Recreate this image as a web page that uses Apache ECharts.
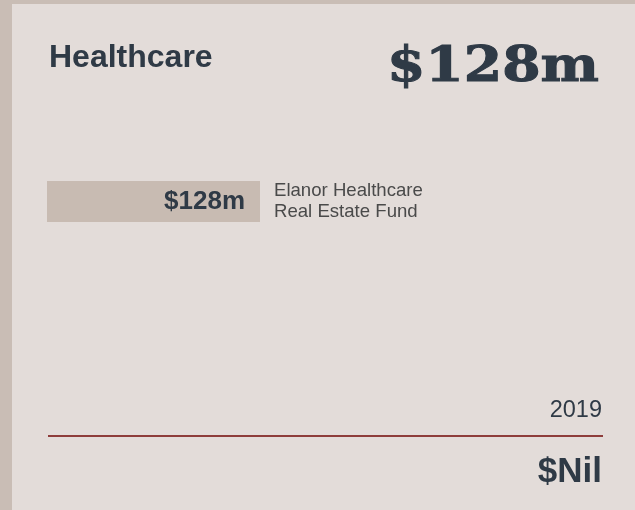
<!DOCTYPE html>
<html><head><meta charset="utf-8">
<script src="https://cdn.jsdelivr.net/npm/echarts@6/dist/echarts.min.js"></script>
<style>html,body{margin:0;padding:0;background:#c9bdb5}#c{width:635px;height:510px}</style>
</head><body><div id="c"></div>
<script>
const sectorTitle = 'Healthcare';
const sectorTotal = '$128m';
const funds = ['Elanor Healthcare\nReal Estate Fund'];
const fundValues = [128];
const fundLabels = ['$128m'];
const yearLabel = '2019';
const yearValue = '$Nil';

const dark = '#2f3a46';
const sans = 'Liberation Sans';
const chart = echarts.init(document.getElementById('c'), null, {renderer: 'canvas'});
chart.setOption({
  backgroundColor: '#c9bdb5',
  animation: false,
  graphic: [
    {type: 'rect', shape: {x: 12, y: 4, width: 623, height: 506}, style: {fill: '#e3dcd9'}, z: -10},
    {type: 'line', shape: {x1: 48, y1: 436, x2: 603, y2: 436}, style: {stroke: '#8e3d3b', lineWidth: 2}},
    {type: 'text', x: 49, y: 58, style: {text: sectorTitle, fontFamily: sans, fontWeight: 'bold', fontSize: 32, fill: dark, align: 'left', verticalAlign: 'middle'}},
    {type: 'text', x: 599, y: 69, scaleX: 1.15, style: {text: sectorTotal, fontFamily: 'DejaVu Serif', fontWeight: 'bold', fontSize: 48, fill: dark, stroke: dark, lineWidth: 1, align: 'right', verticalAlign: 'middle'}},
    {type: 'text', x: 602, y: 411, style: {text: yearLabel, fontFamily: sans, fontWeight: 'normal', fontSize: 23.5, fill: dark, align: 'right', verticalAlign: 'middle'}},
    {type: 'text', x: 602, y: 472.5, style: {text: yearValue, fontFamily: sans, fontWeight: 'bold', fontSize: 35, fill: dark, align: 'right', verticalAlign: 'middle'}}
  ],
  grid: {left: 47, top: 181, width: 213, height: 41},
  xAxis: {type: 'value', min: 0, max: 128, show: false},
  yAxis: {
    type: 'category', data: funds, position: 'right',
    axisLine: {show: false}, axisTick: {show: false},
    axisLabel: {margin: 14, align: 'left', fontFamily: sans, fontSize: 18.6, lineHeight: 21, color: '#4a4a4a', padding: [2, 0, 0, 0]}
  },
  series: [{
    type: 'bar', data: fundValues, barWidth: 41,
    itemStyle: {color: '#c8bbb2'},
    label: {show: true, position: 'insideRight', distance: 15,
      formatter: p => fundLabels[p.dataIndex],
      fontFamily: sans, fontWeight: 'bold', fontSize: 26, color: dark}
  }]
});
</script></body></html>
